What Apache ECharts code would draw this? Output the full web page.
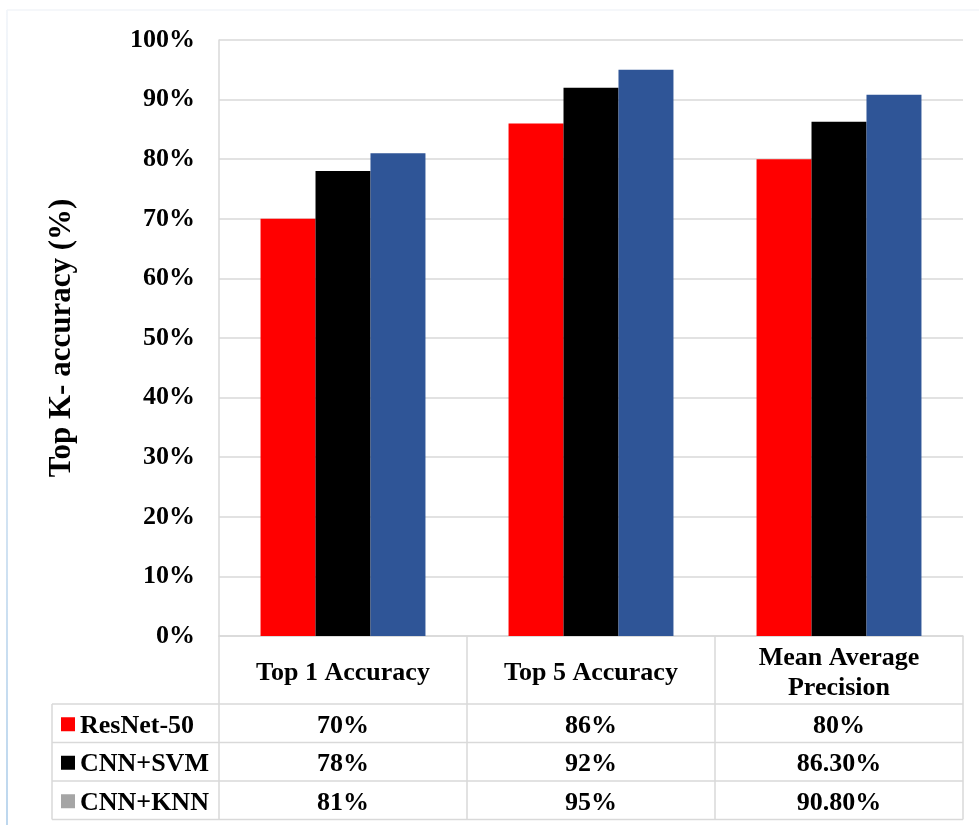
<!DOCTYPE html>
<html>
<head>
<meta charset="utf-8">
<script src="https://cdn.jsdelivr.net/npm/echarts@6/dist/echarts.min.js"></script>
<style>
  html, body { margin: 0; padding: 0; background: #ffffff; }
  #chart { width: 979px; height: 825px; }
</style>
</head>
<body>
<div id="chart"></div>
<script>
// Categories on the x axis (also the header row of the data table)
const categories = ['Top 1 Accuracy', 'Top 5 Accuracy', 'Mean Average\nPrecision'];

// Model names and their scores (%)
const seriesNames = ['ResNet-50', 'CNN+SVM', 'CNN+KNN'];
const resnet50 = [70, 86, 80];
const cnnSvm = [78, 92, 86.3];
const cnnKnn = [81, 95, 90.8];

// Y axis range
const yMin = 0;
const yMax = 100;
const yStep = 10;

const seriesValues = [resnet50, cnnSvm, cnnKnn];
const barColors = ['#FF0000', '#000000', '#2F5597'];
const keyColors = ['#FF0000', '#000000', '#A5A5A5'];

const FONT = "'Liberation Serif', 'Times New Roman', serif";
const GRID_COLOR = '#D9D9D9';
const HEADER_H = 68;
const ROW_H = 38.5;
const TABLE_LEFT = 52;

function fmtPct(v) {
  return Number.isInteger(v) ? v + '%' : v.toFixed(2) + '%';
}

const chart = echarts.init(document.getElementById('chart'), null, { renderer: 'canvas' });

const tableHeight = HEADER_H + ROW_H * seriesNames.length;

chart.setOption({
  backgroundColor: '#ffffff',
  animation: false,
  textStyle: { fontFamily: FONT },
  grid: { left: 219, top: 40, width: 744, height: 596, containLabel: false },
  xAxis: {
    type: 'category',
    data: categories,
    axisLine: { show: true, lineStyle: { color: GRID_COLOR, width: 1.5 } },
    axisTick: { show: true, inside: false, length: tableHeight, alignWithLabel: false,
                lineStyle: { color: GRID_COLOR, width: 1.5 } },
    axisLabel: {
      interval: 0, margin: 37, verticalAlign: 'middle',
      fontFamily: FONT, fontSize: 26, fontWeight: 'bold', color: '#000', lineHeight: 30
    },
    splitLine: { show: false }
  },
  yAxis: {
    type: 'value',
    min: yMin, max: yMax, interval: yStep,
    name: 'Top K- accuracy (%)',
    nameLocation: 'middle',
    nameRotate: 90,
    nameGap: 157,
    nameTextStyle: { fontFamily: FONT, fontSize: 31, fontWeight: 'bold', color: '#000',
                     verticalAlign: 'middle', align: 'center' },
    axisLine: { show: true, lineStyle: { color: GRID_COLOR, width: 1.5 } },
    axisTick: { show: false },
    axisLabel: {
      margin: 24, formatter: '{value}%',
      fontFamily: FONT, fontSize: 26, fontWeight: 'bold', color: '#000'
    },
    splitLine: { show: true, lineStyle: { color: GRID_COLOR, width: 1.5 } }
  },
  series: seriesNames.map((name, i) => ({
    name: name,
    type: 'bar',
    data: seriesValues[i],
    barGap: '0%',
    barCategoryGap: '33.5%',
    itemStyle: { color: barColors[i] }
  }))
});

// Data table beneath the plot: row borders, legend keys, model names and values
function drawTable() {
  const c0 = chart.convertToPixel({ xAxisIndex: 0 }, categories[0]);
  const c1 = chart.convertToPixel({ xAxisIndex: 0 }, categories[1]);
  const band = c1 - c0;
  const plotLeft = c0 - band / 2;
  const plotRight = plotLeft + band * categories.length;
  const yBase = chart.convertToPixel({ yAxisIndex: 0 }, yMin);
  const headerBottom = yBase + HEADER_H;
  const tableBottom = headerBottom + ROW_H * seriesNames.length;

  const elements = [];
  const line = (x1, y1, x2, y2) => ({
    type: 'line', silent: true,
    shape: { x1, y1, x2, y2 },
    style: { stroke: GRID_COLOR, lineWidth: 1.5 }
  });

  // frame of the page area
  elements.push({
    type: 'line', silent: true,
    shape: { x1: 7, y1: 10, x2: 7, y2: 825 },
    style: { stroke: new echarts.graphic.LinearGradient(0, 0, 0, 1, [
      { offset: 0, color: '#F3F6FA' }, { offset: 1, color: '#BDD7EE' }]), lineWidth: 2 }
  });
  elements.push({
    type: 'line', silent: true,
    shape: { x1: 7, y1: 10, x2: 979, y2: 10 },
    style: { stroke: '#F2F5F9', lineWidth: 1.5 }
  });

  // horizontal borders of the series rows
  for (let r = 0; r <= seriesNames.length; r++) {
    const y = headerBottom + ROW_H * r;
    elements.push(line(TABLE_LEFT, y, plotRight, y));
  }
  // left border of the legend column
  elements.push(line(TABLE_LEFT, headerBottom, TABLE_LEFT, tableBottom));

  seriesNames.forEach((name, r) => {
    const yc = headerBottom + ROW_H * (r + 0.5);
    elements.push({
      type: 'rect', silent: true,
      shape: { x: TABLE_LEFT + 9, y: yc - 6, width: 14, height: 14 },
      style: { fill: keyColors[r] }
    });
    elements.push({
      type: 'text', silent: true,
      style: { x: TABLE_LEFT + 28, y: yc + 3, text: name, fill: '#000',
               font: 'bold 26px ' + FONT, textAlign: 'left', textVerticalAlign: 'middle' }
    });
    seriesValues[r].forEach((v, ci) => {
      const xc = chart.convertToPixel({ xAxisIndex: 0 }, categories[ci]);
      elements.push({
        type: 'text', silent: true,
        style: { x: xc, y: yc + 3, text: fmtPct(v), fill: '#000',
                 font: 'bold 26px ' + FONT, textAlign: 'center', textVerticalAlign: 'middle' }
      });
    });
  });

  chart.setOption({ graphic: { elements } });
}

drawTable();
</script>
</body>
</html>
